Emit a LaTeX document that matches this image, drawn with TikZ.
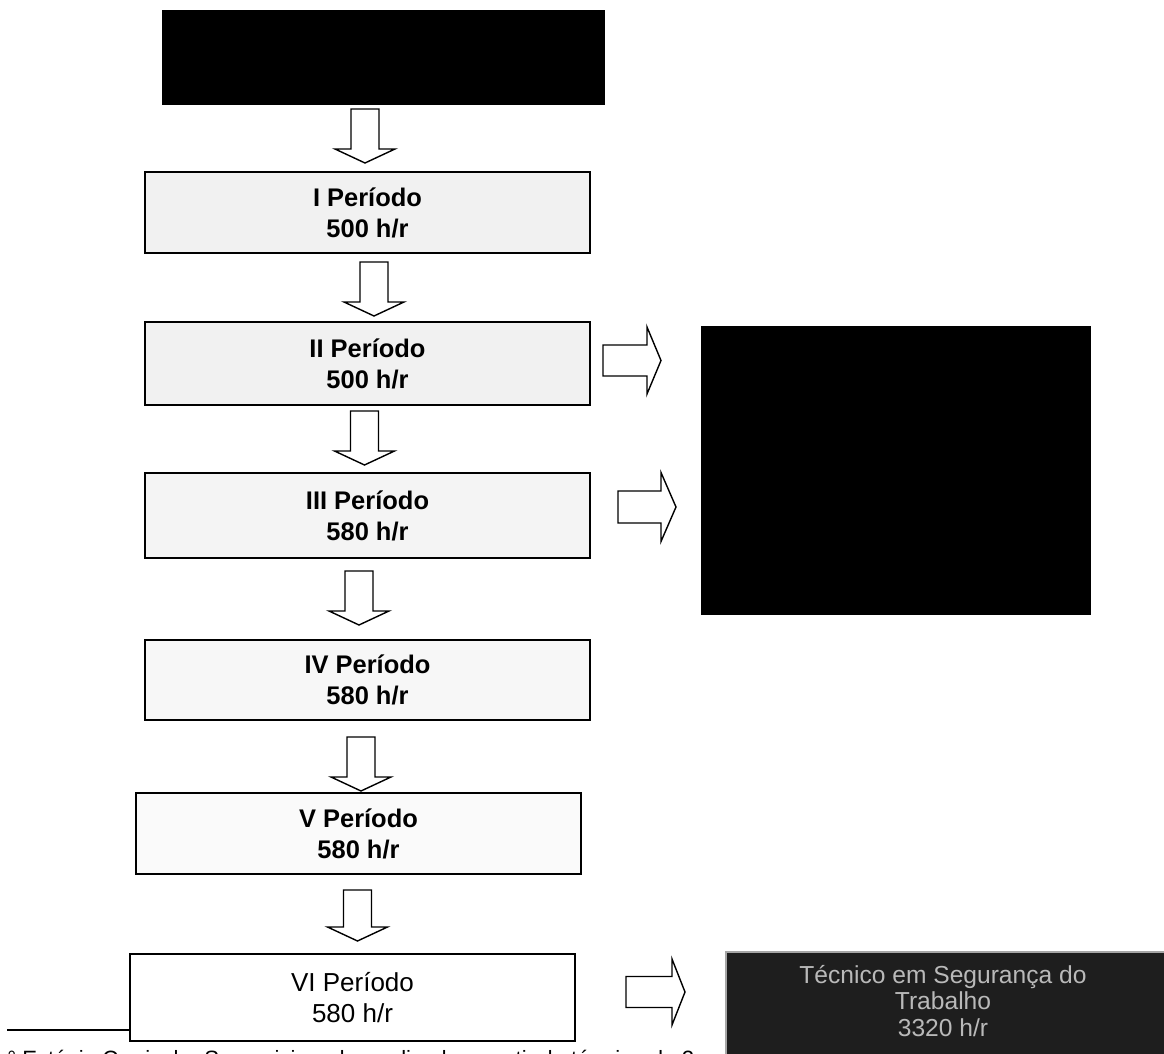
\documentclass[tikz,border=0pt]{standalone}
\usepackage{fontspec}
\setmainfont{Liberation Sans}
\newcommand{\dnarrow}[3]{%
  \draw[blk] (#1-14,#2) -- (#1+14,#2) -- (#1+14,#3-14) -- (#1+30,#3-14) -- (#1,#3)
    -- (#1-30,#3-14) -- (#1-14,#3-14) -- cycle;}
\newcommand{\rtarrow}[6]{% x0, xbase, xtip, ymid, shaft half, head half
  \draw[blk] (#1,#4-#5) -- (#2,#4-#5) -- (#2,#4-#6) -- (#3,#4) -- (#2,#4+#6)
    -- (#2,#4+#5) -- (#1,#4+#5) -- cycle;}
\begin{document}
\begin{tikzpicture}[x=0.02cm,y=-0.02cm,
  box/.style={draw=black, line width=1.2pt, inner sep=0pt, align=center,
    font=\fontsize{14.5}{17.6}\selectfont\bfseries, text=black},
  boxr/.style={box, font=\fontsize{14.8}{17.6}\selectfont},
  blk/.style={draw=black, line width=0.8pt, fill=white, line join=miter},
  darkbox/.style={draw=black, line width=1pt, fill=black, inner sep=0pt}]
\useasboundingbox (0,0) rectangle (1164,1054);
\clip (0,0) rectangle (1164,1054);
\fill[white] (0,0) rectangle (1164,1054);

% top black box
\node[darkbox, minimum width=8.82cm, minimum height=1.86cm] (top) at (383.5,57.5) {};

% period boxes
\node[box, fill=gray!11, minimum width=8.9cm, minimum height=1.62cm] (b1) at (367.5,212.5) {I Período\\500 h/r};
\node[box, fill=gray!11, minimum width=8.9cm, minimum height=1.66cm] (b2) at (367.5,363.5) {II Período\\500 h/r};
\node[box, fill=gray!9, minimum width=8.9cm, minimum height=1.70cm] (b3) at (367.5,515.5) {III Período\\580 h/r};
\node[box, fill=gray!6, minimum width=8.9cm, minimum height=1.60cm] (b4) at (367.5,680) {IV Período\\580 h/r};
\node[box, fill=gray!4, minimum width=8.9cm, minimum height=1.62cm] (b5) at (358.5,833.5) {V Período\\580 h/r};
\node[boxr, fill=white, minimum width=8.9cm, minimum height=1.74cm] (b6) at (352.5,997.5) {VI Período\\580 h/r};

% footnote rule and (cut-off) footnote text
\coordinate (fn) at (7,1030);
\draw[line width=1pt] (fn) -- (fn -| b6.west);
\node[anchor=base west, inner sep=0pt, font=\fontsize{12.6}{15}\selectfont] (fnt) at (7,1066)
  {° Estágio Curricular Supervisionado, realizado a partir do término do 2};

% right boxes
\node[darkbox, minimum width=7.76cm, minimum height=5.74cm] (rb) at (896,470.5) {};
\node[draw=gray!70, line width=1pt, fill={rgb,255:red,30;green,30;blue,30}, inner sep=0pt,
  minimum width=8.88cm, minimum height=2.36cm] (tec) at (948,1011) {};
\node[align=center, text=gray!55, font=\fontsize{14}{15.3}\selectfont] (tect) at (943,1001)
  {Técnico em Segurança do\\Trabalho\\3320 h/r};

% down block arrows
\dnarrow{365}{109}{163}
\dnarrow{374}{262}{316}
\dnarrow{364.5}{411}{465}
\dnarrow{359}{571}{625}
\dnarrow{361}{737}{791}
\dnarrow{357.5}{890}{941}

% right block arrows
\rtarrow{603}{647}{661}{360.5}{15.5}{33.5}
\rtarrow{618}{661}{676}{507}{16}{34.5}
\rtarrow{626}{672}{685}{992}{15.5}{33}
\end{tikzpicture}
\end{document}
